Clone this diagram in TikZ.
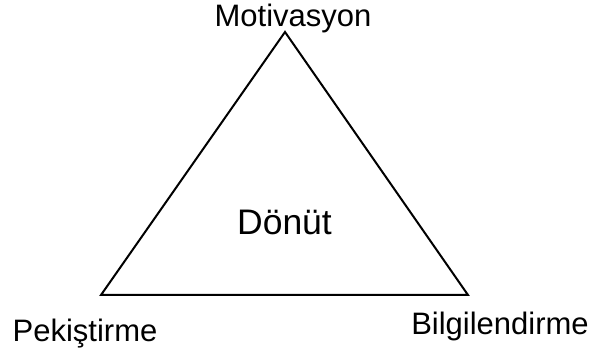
\documentclass[tikz,border=0pt]{standalone}
\usepackage{fontspec}
\setmainfont{Liberation Sans}
\usetikzlibrary{positioning}

\begin{document}
\begin{tikzpicture}[
            x=1pt, y=1pt,
            corner/.style={font=\fontsize{31}{37}\selectfont, anchor=base, inner sep=0pt},
            centre/.style={font=\fontsize{35.5}{42}\selectfont, anchor=base, inner sep=0pt},
            side/.style={line width=2pt, line join=miter}
        ]
            \useasboundingbox (0,0) rectangle (595,352);
            % triangle corners
            \coordinate (top) at (285,320);
            \coordinate (left) at (101,57);
            \coordinate (right) at (468,57);

            \node[corner] (motivasyon) at (293,325) {Motivasyon};
            \node[corner] (pekistirme) at (85,10) {Pekiştirme};
            \node[corner] (bilgi) at (500,17) {Bilgilendirme};
            \node[centre] (donut) at (284.5,117) {Dönüt};

            \draw[side] (top) -- (right) -- (left) -- cycle;
        \end{tikzpicture}
\end{document}
